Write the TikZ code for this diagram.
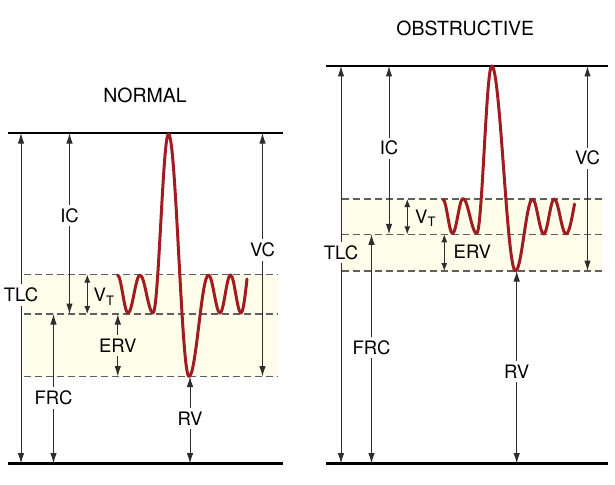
\documentclass[tikz,border=0pt]{standalone}
\usepackage{fontspec}
\setmainfont{TeX Gyre Heros}
\usetikzlibrary{arrows.meta}
\definecolor{shadecol}{RGB}{253,253,234}
\definecolor{wavecol}{RGB}{160,28,32}
\definecolor{dashcol}{RGB}{95,95,95}
\definecolor{arrcol}{RGB}{45,45,45}
\begin{document}
\begin{tikzpicture}[x=1pt,y=-1pt,
  solidline/.style={line width=2.5pt,black},
  dashline/.style={dashcol,line width=1.4pt,dash pattern=on 7pt off 4pt},
  arr/.style={arrcol,line width=1pt,-{Latex[length=10.5pt,width=6.5pt]}},
  darr/.style={arrcol,line width=1pt,{Latex[length=10.5pt,width=6.5pt]}-{Latex[length=10.5pt,width=6.5pt]}},
  sarr/.style={arrcol,line width=1pt,{Latex[length=8pt,width=6pt]}-{Latex[length=8pt,width=6pt]}},
  lbl/.style={font=\fontsize{18.5}{20}\selectfont,inner xsep=1pt,inner ysep=4pt,text height=13pt,text depth=0pt},
  ttl/.style={font=\fontsize{19.5}{22}\selectfont,inner sep=0pt},
  wavestyle/.style={wavecol,line width=3pt,line cap=round,line join=round}]
\useasboundingbox (0,0) rectangle (615,484);

% ---------------- NORMAL ----------------
\coordinate (nT) at (0,133);
\coordinate (nB) at (0,463.5);
\coordinate (nV) at (0,274.5);
\coordinate (nF) at (0,314);
\coordinate (nR) at (0,376.5);

\fill[shadecol] (24,274.5) rectangle (278,376.5);
\draw[dashline] (24,274.5) -- (278,274.5);
\draw[dashline] (24,314) -- (278,314);
\draw[dashline] (24,376.5) -- (278,376.5);
\draw[solidline] (8,133) -- (283,133);
\draw[solidline] (8,463.5) -- (283,463.5);

\node[ttl] (tn) at (145,95.5) {NORMAL};

\node[lbl] (ntlc) at (21,295) {TLC};
\draw[arr] (ntlc.north) -- (ntlc.north |- nT);
\draw[arr] (ntlc.south) -- (ntlc.south |- nB);

\node[lbl] (nic) at (69.5,215.5) {IC};
\draw[arr] (nic.north) -- (nic.north |- nT);
\draw[arr] (nic.south) -- (nic.south |- nF);

\node[lbl] (nfrc) at (53.5,398) {FRC};
\draw[arr] (nfrc.north) -- (nfrc.north |- nF);
\draw[arr] (nfrc.south) -- (nfrc.south |- nB);

\coordinate (nvt1) at (87.3,274.5);
\coordinate (nvt2) at (87.3,314);
\draw[sarr] (nvt1) -- (nvt2);
\node[lbl,anchor=west] (nvt) at (92.5,295) {V\raisebox{-3.5pt}{\fontsize{13}{13}\selectfont T}};

\node[lbl] (nerv) at (117.8,345.5) {ERV};
\draw[arr] (nerv.north) -- (nerv.north |- nF);
\draw[arr] (nerv.south) -- (nerv.south |- nR);

\node[lbl] (nrv) at (190,418.5) {RV};
\draw[arr] (nrv.north) -- (nrv.north |- nR);
\draw[arr] (nrv.south) -- (nrv.south |- nB);

\node[lbl] (nvc) at (262.5,250) {VC};
\draw[arr] (nvc.north) -- (nvc.north |- nT);
\draw[arr] (nvc.south) -- (nvc.south |- nR);

\draw[wavestyle] (117.5,275) cos (122.75,294) sin (128,313)
  cos (134,294) sin (140,275)
  cos (146.5,294) sin (153,313)
  cos (160.75,223.5) sin (168.5,134)
  cos (178.75,255.25) sin (189,376.5)
  cos (198.75,325.75) sin (208.5,275)
  cos (214.25,294) sin (220,313)
  cos (225.25,294) sin (230.5,275)
  cos (235.75,294) sin (241,313)
  cos (247,279);

% ---------------- OBSTRUCTIVE ----------------
\coordinate (oT) at (0,66);
\coordinate (oB) at (0,463.5);
\coordinate (oV) at (0,199);
\coordinate (oF) at (0,234.3);
\coordinate (oR) at (0,271);

\fill[shadecol] (341.7,199) rectangle (601.7,271);
\draw[dashline] (341.7,199) -- (601.7,199);
\draw[dashline] (341.7,234.3) -- (601.7,234.3);
\draw[dashline] (341.7,271) -- (601.7,271);
\draw[solidline] (326,66) -- (607.5,66);
\draw[solidline] (326,463.5) -- (607.5,463.5);

\node[ttl] (to) at (465.3,28.3) {OBSTRUCTIVE};

\node[lbl] (otlc) at (341,252.7) {TLC};
\draw[arr] (otlc.north) -- (otlc.north |- oT);
\draw[arr] (otlc.south) -- (otlc.south |- oB);

\node[lbl] (oic) at (389,148.3) {IC};
\draw[arr] (oic.north) -- (oic.north |- oT);
\draw[arr] (oic.south) -- (oic.south |- oF);

\node[lbl] (ofrc) at (371.5,347.7) {FRC};
\draw[arr] (ofrc.north) -- (ofrc.north |- oF);
\draw[arr] (ofrc.south) -- (ofrc.south |- oB);

\coordinate (ovt1) at (407.3,199);
\coordinate (ovt2) at (407.3,234.3);
\draw[sarr] (ovt1) -- (ovt2);
\node[lbl,anchor=west] (ovt) at (414,216.5) {V\raisebox{-3.5pt}{\fontsize{13}{13}\selectfont T}};

\coordinate (oerv1) at (444.3,234.3);
\coordinate (oerv2) at (444.3,271);
\draw[sarr] (oerv1) -- (oerv2);
\node[lbl,anchor=west] (oerv) at (452.5,252.3) {ERV};

\node[lbl] (orv) at (516.7,371.7) {RV};
\draw[arr] (orv.north) -- (orv.north |- oR);
\draw[arr] (orv.south) -- (orv.south |- oB);

\node[lbl] (ovc) at (587.5,158.3) {VC};
\draw[arr] (ovc.north) -- (ovc.north |- oT);
\draw[arr] (ovc.south) -- (ovc.south |- oR);

\draw[wavestyle] (443,199.5) cos (447.75,216.5) sin (452.5,233.5)
  cos (457.75,216) sin (463,198.5)
  cos (469.85,216) sin (476.7,233.5)
  cos (484.2,149.75) sin (491.7,66)
  cos (503.6,168.5) sin (515.5,271)
  cos (524,235) sin (532.5,199)
  cos (538.1,216.5) sin (543.7,234)
  cos (548.95,216.5) sin (554.2,199)
  cos (560.1,216.5) sin (566,234)
  cos (574.5,204);
\end{tikzpicture}
\end{document}
